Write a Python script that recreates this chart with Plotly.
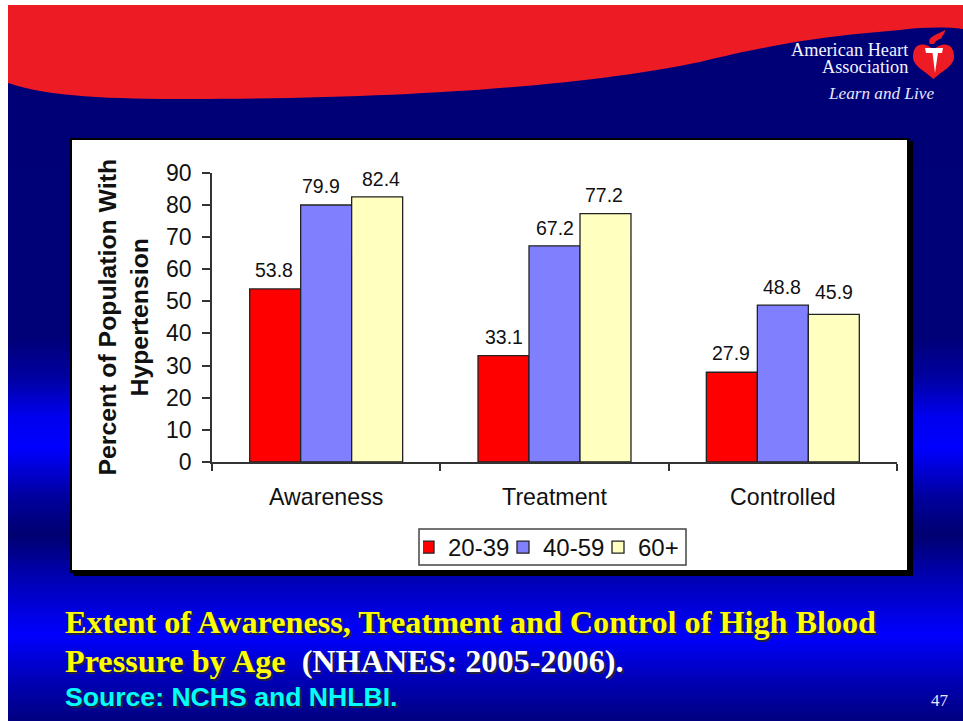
import numpy as np
import plotly.graph_objects as go

W, H = 963, 721

categories = ["Awareness", "Treatment", "Controlled"]
age_groups = ["20-39", "40-59", "60+"]
values_20_39 = [53.8, 33.1, 27.9]
values_40_59 = [79.9, 67.2, 48.8]
values_60_plus = [82.4, 77.2, 45.9]
series_values = [values_20_39, values_40_59, values_60_plus]
series_colors = ["#FF0000", "#8080FF", "#FFFFC0"]
y_ticks = [0, 10, 20, 30, 40, 50, 60, 70, 80, 90]

BARGAP = 0.33
SERIF = "Liberation Serif, Times New Roman, serif"
SANS = "Liberation Sans, Arial, sans-serif"


def px(x):
    return x / W


def py(y):
    return 1 - y / H


def pt(x, y):
    return f"{px(x):.5f},{py(y):.5f}"


def rect(x0, y0, x1, y1, fill, line=None):
    return dict(type="rect", xref="paper", yref="paper", layer="below",
                x0=px(x0), x1=px(x1), y0=py(y1), y1=py(y0),
                fillcolor=fill, line=dict(width=0) if line is None else line)


def path(d, fill):
    return dict(type="path", xref="paper", yref="paper", layer="below",
                path=d, fillcolor=fill, line=dict(width=0))


fig = go.Figure()
for name, vals, col in zip(age_groups, series_values, series_colors):
    fig.add_trace(go.Bar(name=name, x=categories, y=vals, marker=dict(color=col, line=dict(color="#222222", width=1.3))))

shapes = []
# slide gradient
stop_y = [5, 338, 377, 417, 448, 496, 535, 575, 635, 674, 721]
stop_b = [118, 120, 160, 240, 255, 160, 112, 176, 255, 192, 128]
for y in range(5, 721, 3):
    b = int(np.interp(y + 1.5, stop_y, stop_b))
    shapes.append(rect(8, y, W, y + 3.5, f"rgb(0,0,{b})"))

# red wave
wave = (f"M{pt(8,5)} L{pt(W,5)} L{pt(W,29)} C{pt(945,27)} {pt(925,27)} {pt(900,30)} "
        f"C{pt(840,35)} {pt(790,40)} {pt(700,62)} C{pt(600,83)} {pt(430,99)} {pt(190,99)} "
        f"C{pt(110,99)} {pt(50,97)} {pt(8,83)} Z")
shapes.append(path(wave, "#ED1C24"))

# logo
heart = (f"M{pt(933.5,50)} C{pt(928,43)} {pt(913,40)} {pt(913,57)} C{pt(913,66)} {pt(926,72)} {pt(933.5,79)} "
         f"C{pt(941,72)} {pt(954,66)} {pt(954,57)} C{pt(954,40)} {pt(939,43)} {pt(933.5,50)} Z")
shapes.append(path(heart, "#ED1C24"))
flame = (f"M{pt(930,44)} C{pt(927,38)} {pt(934,36)} {pt(937,34)} C{pt(940,33)} {pt(943,31)} {pt(945,30)} "
         f"C{pt(945,35)} {pt(941,36)} {pt(942,38)} C{pt(940,39)} {pt(936,40)} {pt(934,44)} Z")
shapes.append(path(flame, "#ED1C24"))
torch = (f"M{pt(925,48)} L{pt(943,48)} L{pt(942,53)} L{pt(938,53)} L{pt(935,73)} L{pt(932.5,53)} L{pt(926,53)} Z")
shapes.append(path(torch, "#FFFFFF"))

# chart frame with shadow
shapes.append(rect(73, 141, 913, 576, "#000000"))
shapes.append(rect(70, 138, 910, 573, "#000000"))
shapes.append(rect(72, 140, 907, 570, "#FFFFFF"))
# legend box
shapes.append(rect(419, 529, 686, 565, "#FFFFFF", line=dict(color="#444444", width=1.5)))


def note(text, x, y, size, color, family=SERIF, anchor="left", bold=False, italic=False, shadow="none"):
    return dict(text=text, xref="paper", yref="paper", x=px(x), y=py(y), xanchor=anchor, yanchor="middle",
                showarrow=False, align=anchor,
                font=dict(size=size, color=color, family=family, shadow=shadow,
                          weight="bold" if bold else "normal",
                          style="italic" if italic else "normal"))


annotations = [
    note("American Heart", 910, 50, 18.3, "#F4F4FF", anchor="right"),
    note("Association", 910, 67, 18.3, "#F4F4FF", anchor="right"),
    note("Learn and Live", 881, 94, 17.2, "#E8E8FF", anchor="center", italic=True),
    note("Extent of Awareness, Treatment and Control of High Blood", 63, 622, 32.2, "#FFFF00", bold=True, shadow="2px 2px 0 #202040"),
    note("Pressure by Age  <span style='color:#FFFFFF'>(NHANES: 2005-2006).</span>", 63, 661, 32.2, "#FFFF00", bold=True, shadow="2px 2px 0 #202040"),
    note("Source: NCHS and NHLBI.", 63, 697, 26.6, "#00FFFF", family=SANS, bold=True, shadow="2px 2px 0 #202040"),
    note("47", 940, 700, 17, "#E8E8FF", anchor="center"),
]

# value labels
bar_w = (1 - BARGAP) / 3
x_nudges = [[-1, -5, 4], [0, 0, -1], [-1, -1, 0]]
y_nudges = [[0, 0, -1], [0, -1, 0], [0, -1, 3]]
for i in range(len(categories)):
    for j, vals in enumerate(series_values):
        annotations.append(dict(text=f"{vals[i]:.1f}", xref="x", yref="y", x=i + (j - 1) * bar_w, y=vals[i],
                                yanchor="bottom", showarrow=False, yshift=6 + y_nudges[i][j], xshift=x_nudges[i][j],
                                font=dict(size=19.5, color="#111111", family=SANS)))

axis_line = "#333333"
fig.update_layout(
    width=W, height=H, autosize=False, margin=dict(l=0, r=0, t=0, b=0),
    paper_bgcolor="#FFFFFF", plot_bgcolor="rgba(0,0,0,0)",
    barmode="group", bargap=BARGAP, bargroupgap=0,
    shapes=shapes, annotations=annotations,
    font=dict(family=SANS, color="#111111"),
    xaxis=dict(domain=[px(212), px(897)], type="category", tickson="boundaries", ticks="outside", ticklen=7, tickwidth=1.5,
               tickcolor=axis_line, showline=True, linecolor=axis_line, linewidth=1.5, showgrid=False, zeroline=False,
               tickfont=dict(size=23.2, family=SANS, color="#111111"), automargin=False, ticklabelstandoff=13),
    yaxis=dict(domain=[py(462), py(172.5)], range=[0, 90], tickvals=y_ticks, ticks="outside", ticklen=8, tickwidth=1.5,
               tickcolor=axis_line, showline=True, linecolor=axis_line, linewidth=1.5, showgrid=False, zeroline=False,
               tickfont=dict(size=23, family=SANS, color="#111111"), automargin=False, ticklabelstandoff=6,
               title=dict(text="<b>Percent of Population With<br>Hypertension</b>", standoff=10,
                          font=dict(size=24.8, family=SANS, color="#111111"))),
    legend=dict(orientation="h", xref="paper", yref="paper", x=px(423), y=py(525), xanchor="left", yanchor="top",
                bgcolor="rgba(0,0,0,0)", borderwidth=0, indentation=-15, entrywidth=65, entrywidthmode="pixels",
                font=dict(size=24, family=SANS, color="#111111"), itemclick=False, traceorder="normal"),
    hovermode=False,
)

fig.write_html("out.html", post_script="document.body.style.margin='0';", config=dict(displayModeBar=False))
